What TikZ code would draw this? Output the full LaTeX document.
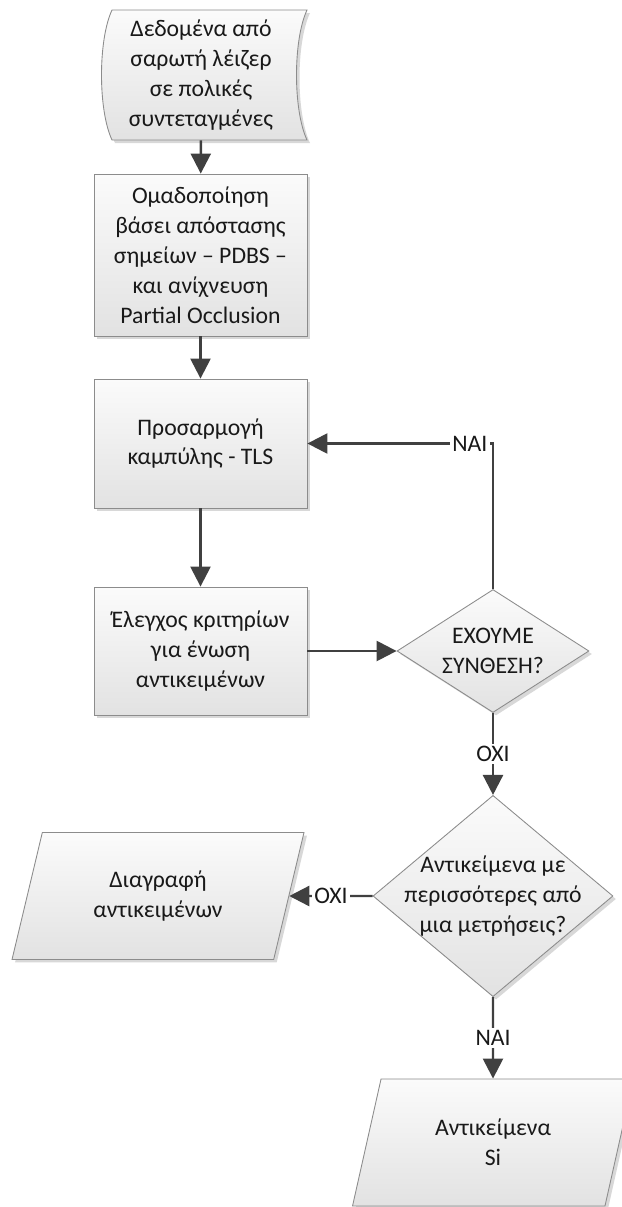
\documentclass[tikz,border=0pt]{standalone}
\usepackage{fontspec}
\setmainfont{Carlito}
\usetikzlibrary{shapes.geometric,arrows.meta,shadows}
\definecolor{flowline}{RGB}{64,64,64}
\definecolor{flowedge}{RGB}{140,140,140}
\definecolor{flowtop}{RGB}{251,251,251}
\definecolor{flowbottom}{RGB}{226,226,226}
\definecolor{flowshadow}{RGB}{216,216,216}

\begin{document}
\begin{tikzpicture}[x=0.02cm, y=-0.02cm,
    every node/.style={font=\fontsize{13.5}{17}\selectfont, text=black!90},
    chartbox/.style={draw=flowedge, line width=0.5pt, top color=flowtop, bottom color=flowbottom,
        drop shadow={shadow xshift=0.06cm, shadow yshift=-0.06cm, fill=flowshadow, opacity=1}},
    process/.style={chartbox, rectangle, align=center, minimum width=4.26cm},
    decision/.style={chartbox, diamond, align=center, inner sep=-8pt},
    iobox/.style={chartbox, trapezium, align=center, trapezium left angle=64, trapezium right angle=116,
        trapezium stretches body, minimum height=2.54cm},
    flow/.style={draw=flowline, line width=1.4pt, -{Triangle[length=0.4cm, width=0.4cm]}},
    answer/.style={fill=white, inner sep=1.5pt}]
    \useasboundingbox (0,0) rectangle (622,1207);

    % Stored data shape
    \path[chartbox] (112,10) -- (307,10) .. controls (293,40) and (293,110) .. (307,140)
        -- (112,140) .. controls (98,110) and (98,40) .. (112,10) -- cycle;

    % Blocks
    \node[align=center, minimum width=3.9cm, minimum height=2.6cm] (scan) at (201,75)
        {Δεδομένα από\\σαρωτή λέιζερ\\σε πολικές\\συντεταγμένες};
    \node[process, minimum height=3.24cm] (group) at (200.5,255)
        {Ομαδοποίηση\\βάσει απόστασης\\σημείων – PDBS –\\και ανίχνευση\\Partial Occlusion};
    \node[process, minimum height=2.58cm] (fit) at (200.5,443.5) {Προσαρμογή\\καμπύλης - TLS};
    \node[process, minimum height=2.56cm] (check) at (200.5,651)
        {Έλεγχος κριτηρίων\\για ένωση\\αντικειμένων};
    \node[decision, minimum width=3.84cm, minimum height=2.46cm] (merge) at (493,651)
        {ΕΧΟΥΜΕ\\ΣΥΝΘΕΣΗ?};
    \node[decision, minimum width=4.8cm, minimum height=3.84cm] (multi) at (493,896)
        {Αντικείμενα με\\περισσότερες από\\μια μετρήσεις?};
    \node[iobox, minimum width=5.84cm] (delete) at (158,896) {Διαγραφή\\αντικειμένων};
    \node[iobox, minimum width=5.62cm] (result) at (493,1142.5) {Αντικείμενα\\Si};

    % Connections
    \draw[flow] (scan) -- (group);
    \draw[flow] (group) -- (fit);
    \draw[flow] (fit) -- (check);
    \draw[flow] (check) -- (merge);
    \draw[flow] (merge.north) |- node[answer, pos=0.5, anchor=east, xshift=-1pt] {ΝΑΙ} (fit.east);
    \draw[flow] (merge.south) -- node[answer] {ΟΧΙ} (multi.north);
    \draw[flow] (multi.west) -- node[answer] {ΌΧΙ} (delete);
    \draw[flow] (multi.south) -- node[answer] {ΝΑΙ} (result);
\end{tikzpicture}
\end{document}
